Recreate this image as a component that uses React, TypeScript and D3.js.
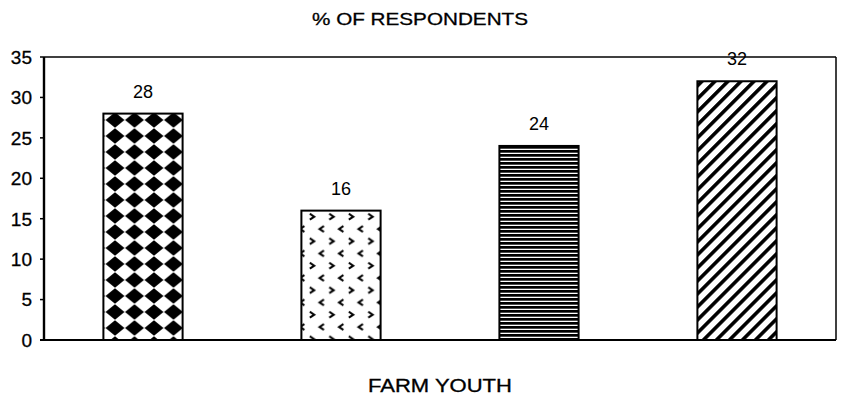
import React from "react";
import * as d3 from "d3";

const categories = ["Group 1", "Group 2", "Group 3", "Group 4"];
const values = [28, 16, 24, 32];
const patterns = ["diamond", "chevron", "hlines", "diag"];
const yTicks = [0, 5, 10, 15, 20, 25, 30, 35];
const title = "% OF RESPONDENTS";
const xTitle = "FARM YOUTH";

const W = 841;
const H = 404;
const left = 44;
const right = 836;
const top = 57;
const bottom = 340;
const font = "'Liberation Sans', Arial, Helvetica, sans-serif";

export default function App() {
  const x = d3
    .scaleBand<string>()
    .domain(categories)
    .range([left, right])
    .paddingInner(0.6)
    .paddingOuter(0.3);
  const y = d3.scaleLinear().domain([0, 35]).range([bottom, top]);

  return (
    <svg
      width={W}
      height={H}
      style={{ position: "absolute", left: 0, top: 0, background: "#fff" }}
    >
      <defs>
        <pattern id="diamond" patternUnits="userSpaceOnUse" x={105.25} y={112} width={19.5} height={16}>
          <rect width={19.5} height={16} fill="#fff" />
          <path d="M9.75,0.3 L19.2,8 L9.75,15.7 L0.3,8 Z" fill="#000" />
        </pattern>
        <pattern id="chevron" patternUnits="userSpaceOnUse" x={307} y={210.2} width={19.5} height={24.5}>
          <rect width={19.5} height={24.5} fill="#fff" />
          <path d="M2.8,3.6 L7.2,6.5 L2.8,9.4" fill="none" stroke="#000" strokeWidth={2} />
          <path d="M16.95,15.85 L12.55,18.75 L16.95,21.65" fill="none" stroke="#000" strokeWidth={2} />
        </pattern>
        <pattern id="hlines" patternUnits="userSpaceOnUse" x={0} y={146} width={10} height={4}>
          <rect width={10} height={4} fill="#fff" />
          <rect y={0} width={10} height={2.7} fill="#000" />
        </pattern>
        <pattern id="diag" patternUnits="userSpaceOnUse" width={9.2} height={9.2} patternTransform="rotate(45)">
          <rect width={9.2} height={9.2} fill="#fff" />
          <rect x={0} width={3.6} height={9.2} fill="#000" />
        </pattern>
      </defs>

      <text
        x={312}
        y={25}
        fontFamily={font}
        fontSize={17}
        textLength={216}
        lengthAdjust="spacingAndGlyphs"
        fill="#000"
        stroke="#000"
        strokeWidth={0.3}
      >
        {title}
      </text>

      {/* frame */}
      <line x1={left} x2={right} y1={top} y2={top} stroke="#000" strokeWidth={1.5} />
      <line x1={right} x2={right} y1={top} y2={bottom} stroke="#000" strokeWidth={1.5} />

      {/* bars */}
      {categories.map((c, i) => (
        <rect
          key={c}
          x={x(c)}
          y={y(values[i])}
          width={x.bandwidth()}
          height={bottom - y(values[i])}
          fill={`url(#${patterns[i]})`}
          stroke="#000"
          strokeWidth={2}
        />
      ))}

      {/* value labels */}
      {categories.map((c, i) => (
        <text
          key={c}
          x={(x(c) as number) + x.bandwidth() / 2}
          y={y(values[i]) - 16}
          textAnchor="middle"
          fontFamily={font}
          fontSize={18}
          fill="#000"
        >
          {values[i]}
        </text>
      ))}

      {/* axes */}
      <line x1={left} x2={left} y1={top} y2={bottom} stroke="#000" strokeWidth={2.4} />
      <line x1={left - 4} x2={right} y1={bottom} y2={bottom} stroke="#000" strokeWidth={2.2} />
      {yTicks.map((t) => (
        <g key={t}>
          <line x1={left - 4} x2={left} y1={y(t)} y2={y(t)} stroke="#000" strokeWidth={1.5} />
          <text
            x={32}
            y={y(t)}
            dy="0.36em"
            textAnchor="end"
            fontFamily={font}
            fontSize={19}
            fill="#000"
            stroke="#000"
            strokeWidth={0.3}
          >
            {t}
          </text>
        </g>
      ))}

      <text
        x={368}
        y={392}
        fontFamily={font}
        fontSize={17.5}
        textLength={144}
        lengthAdjust="spacingAndGlyphs"
        fill="#000"
        stroke="#000"
        strokeWidth={0.3}
      >
        {xTitle}
      </text>
    </svg>
  );
}
